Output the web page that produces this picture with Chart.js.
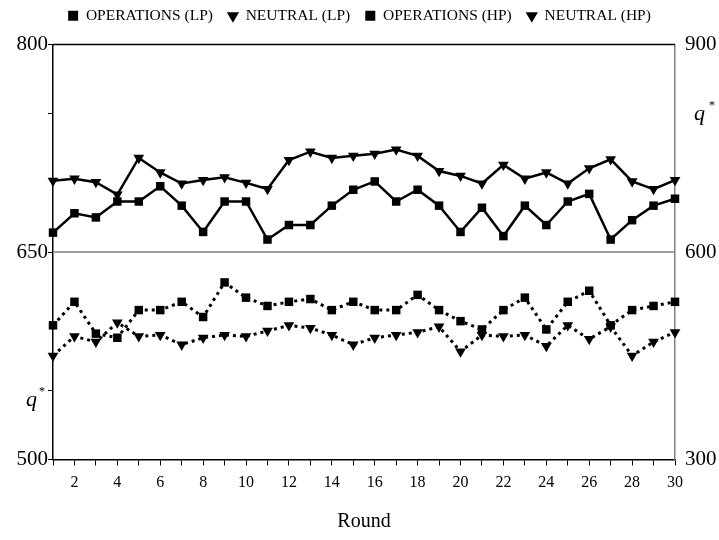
<!DOCTYPE html>
<html>
<head>
<meta charset="utf-8">
<script src="https://cdn.jsdelivr.net/npm/chart.js@4/dist/chart.umd.min.js"></script>
<style>
  body { margin: 0; background: #fff; }
  #wrap { width: 719px; height: 540px; }
</style>
</head>
<body>
<div id="wrap"><canvas id="chart"></canvas></div>
<script>
const rounds = [1, 2, 3, 4, 5, 6, 7, 8, 9, 10, 11, 12, 13, 14, 15, 16, 17, 18, 19, 20, 21, 22, 23, 24, 25, 26, 27, 28, 29, 30];

// low-payoff treatment, left axis (500-800)
const opsLP = [597, 614, 591, 588, 608, 608, 614, 603, 628, 617, 611, 614, 616, 608, 614, 608, 608, 619, 608, 600, 594, 608, 617, 594, 614, 622, 597, 608, 611, 614];
const neuLP = [575, 589, 585, 599, 589, 590, 583, 588, 590, 589, 593, 597, 595, 590, 583, 588, 590, 592, 596, 578, 590, 589, 590, 582, 597, 587, 596, 575, 585, 592];

// high-payoff treatment, right axis (300-900)
const opsHP = [628, 656, 650, 673, 673, 695, 667, 629, 673, 673, 618, 639, 639, 667, 690, 702, 673, 690, 667, 629, 664, 623, 667, 639, 673, 684, 618, 646, 667, 677];
const neuHP = [703, 706, 701, 683, 736, 715, 699, 704, 708, 700, 691, 733, 745, 736, 739, 742, 748, 739, 717, 710, 699, 726, 706, 715, 699, 721, 734, 702, 691, 704];

const leftLabels = [500, 650, 800];
const leftTickMarks = [500, 550, 650, 750, 800];

function pts(values) {
    return rounds.map((r, i) => ({ x: r, y: values[i] }));
}

const serif = "'Liberation Serif', 'DejaVu Serif', serif";

function series(label, values, axis, style, dotted) {
    return {
        label: label,
        data: pts(values),
        yAxisID: axis,
        clip: false,
        borderColor: "#000",
        backgroundColor: "#000",
        borderWidth: dotted ? 3 : 2.5,
        borderDash: dotted ? [3, 4] : [],
        pointStyle: style,
        pointRotation: style === "triangle" ? 180 : 0,
        pointRadius: style === "triangle" ? 6.2 : 6,
        pointBackgroundColor: "#000",
        pointBorderColor: "#000",
        pointBorderWidth: 0,
        tension: 0
    };
}

// push the plot down a bit and lift the legend row
const legendGap = {
    id: "legendGap",
    beforeInit(chart) {
        const fit = chart.legend.fit;
        chart.legend.fit = function () {
            fit.call(this);
            this.height += 4;
        };
        const draw = chart.legend.draw;
        chart.legend.draw = function () {
            const ctx = this.ctx;
            ctx.save();
            ctx.translate(0, -7);
            draw.call(this);
            ctx.restore();
        };
    }
};

const extras = {
    id: "extras",
    beforeDatasetsDraw(chart) {
        const ctx = chart.ctx;
        const a = chart.chartArea;
        const y650 = chart.scales.yL.getPixelForValue(650);
        ctx.save();
        ctx.strokeStyle = "#808080";
        ctx.lineWidth = 1.5;
        ctx.beginPath();
        ctx.moveTo(a.left, y650);
        ctx.lineTo(a.right, y650);
        ctx.stroke();
        ctx.strokeStyle = "#000";
        ctx.lineWidth = 1.5;
        ctx.beginPath();
        ctx.moveTo(a.left, a.top);
        ctx.lineTo(a.right, a.top);
        ctx.stroke();
        ctx.restore();
    },
    afterDraw(chart) {
        const ctx = chart.ctx;
        const a = chart.chartArea;
        ctx.save();
        ctx.fillStyle = "#000";
        ctx.textBaseline = "alphabetic";
        ctx.textAlign = "left";
        ctx.font = "italic 22px " + serif;
        ctx.fillText("q", a.left - 27, a.bottom - 54);
        ctx.fillText("q", a.right + 19, a.top + 75);
        ctx.font = "12px " + serif;
        ctx.fillText("*", a.left - 14, a.bottom - 65);
        ctx.fillText("*", a.right + 34, a.top + 64);
        ctx.restore();
    }
};

new Chart(document.getElementById("chart"), {
    type: "line",
    data: {
        datasets: [
            series("OPERATIONS (LP)", opsLP, "yL", "rect", true),
            series("NEUTRAL (LP)", neuLP, "yL", "triangle", true),
            series("OPERATIONS (HP)", opsHP, "yR", "rect", false),
            series("NEUTRAL (HP)", neuHP, "yR", "triangle", false)
        ]
    },
    options: {
        responsive: true,
        maintainAspectRatio: false,
        animation: false,
        plugins: {
            legend: {
                position: "top",
                labels: {
                    usePointStyle: true,
                    boxWidth: 10,
                    boxHeight: 10,
                    padding: 15,
                    color: "#000",
                    font: { family: serif, size: 15.5 }
                }
            },
            tooltip: { enabled: false }
        },
        scales: {
            x: {
                type: "linear",
                min: 1,
                max: 30,
                afterFit: s => { s.height = 80.5; },
                ticks: {
                    stepSize: 1,
                    autoSkip: false,
                    maxRotation: 0,
                    padding: 8,
                    color: "#000",
                    font: { family: serif, size: 16 },
                    callback: v => (v % 2 === 0 ? v : "")
                },
                grid: { drawOnChartArea: false, tickLength: 6, color: "#000" },
                border: { color: "#000", width: 1.5 },
                title: {
                    display: true,
                    text: "Round",
                    color: "#000",
                    font: { family: serif, size: 20 },
                    padding: { top: 0, bottom: 6 }
                }
            },
            yL: {
                position: "left",
                min: 500,
                max: 800,
                afterFit: s => { s.width = 53; },
                ticks: {
                    stepSize: 50,
                    padding: 0,
                    color: "#000",
                    font: { family: serif, size: 21 },
                    callback: v => (leftLabels.includes(v) ? v : "")
                },
                grid: {
                    drawOnChartArea: false,
                    tickLength: 5,
                    color: c => (c.tick && leftTickMarks.includes(c.tick.value) ? "#000" : "rgba(0,0,0,0)")
                },
                border: { color: "#000", width: 1.5 }
            },
            yR: {
                position: "right",
                min: 300,
                max: 900,
                afterFit: s => { s.width = 44; },
                ticks: {
                    stepSize: 300,
                    padding: 10,
                    color: "#000",
                    font: { family: serif, size: 21 }
                },
                grid: { drawOnChartArea: false, drawTicks: false },
                border: { color: "#808080", width: 1.5 }
            }
        }
    },
    plugins: [legendGap, extras]
});
</script>
</body>
</html>
